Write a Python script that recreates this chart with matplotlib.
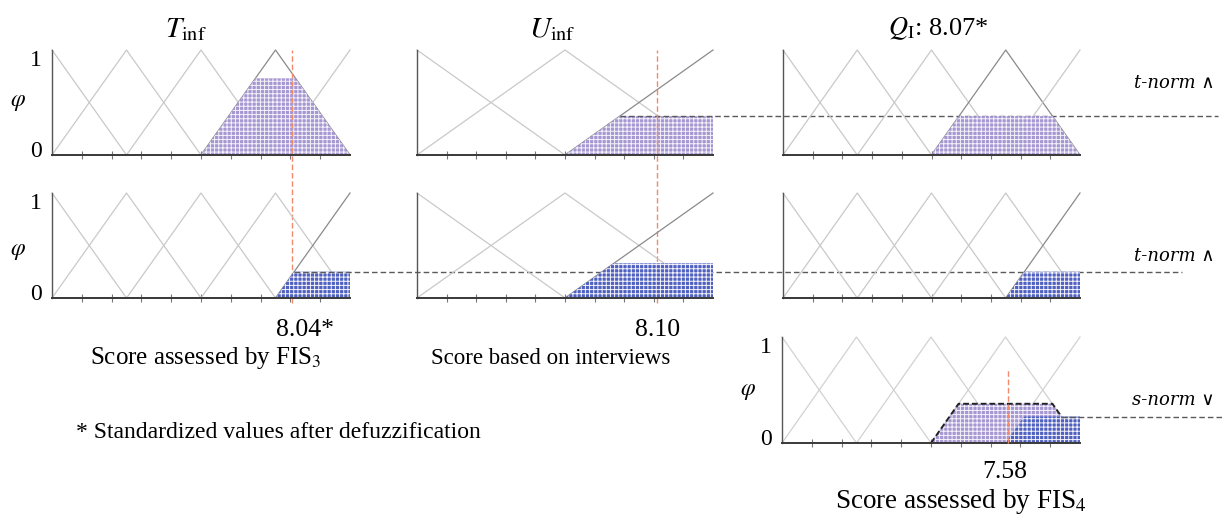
import numpy as np
import matplotlib.pyplot as plt
from matplotlib.transforms import blended_transform_factory as blend

plt.rcParams["font.family"] = ["Liberation Serif", "DejaVu Serif"]
plt.rcParams["mathtext.fontset"] = "stix"
plt.rcParams["hatch.linewidth"] = 0.7

# membership function layout (score axis 0..10)
five_peaks = [0, 2.5, 5, 7.5, 10]
five_half = 2.5
three_peaks = [0, 5, 10]
three_half = 5.0

# crisp inputs / outputs
t_value = 8.04
u_value = 8.10
q_value = 8.07
fis4_value = 7.58

# rule activations: (term index, clip level)
rule1_t = (3, 0.73)
rule1_u = (2, 0.37)
rule1_q = (3, 0.37)
rule2_t = (4, 0.25)
rule2_u = (2, 0.33)
rule2_q = (4, 0.25)

W, H = 1223, 515
PURPLE = "#a697d2"
BLUE = "#4f61c0"
RED = "#f28a6e"
DASH = "#5a5a5a"

x = np.linspace(0, 10, 1001)


def mf(peak, half):
    return np.interp(x, [peak - half, peak, peak + half], [0, 1, 0])


fig = plt.figure(figsize=(W / 100, H / 100), dpi=100)


def box(left, top, right, bottom):
    return [left / W, 1 - bottom / H, (right - left) / W, (bottom - top) / H]


def panel(rect, peaks, half, active=None, light="#c9c9c9", dark="#8a8a8a"):
    ax = fig.add_axes(box(*rect))
    for i, p in enumerate(peaks):
        ax.plot(x, mf(p, half), color=dark if i == active else light,
                lw=0.9, clip_on=False, zorder=2)
    return ax


def shade(ax, peaks, half, term, level, color, z=3):
    y = np.minimum(mf(peaks[term], half), level)
    ax.fill_between(x, 0, y, where=y > 0, facecolor=color, edgecolor="#f4f2fa",
                    hatch="++++", linewidth=0, zorder=z)


def style(ax, labels=False, phi_y=0.5):
    ax.set_xlim(0, 10)
    ax.set_ylim(0, 1)
    ax.patch.set_alpha(0)
    for s in ("top", "right"):
        ax.spines[s].set_visible(False)
    ax.spines["left"].set_color("#555555")
    ax.spines["left"].set_linewidth(1.0)
    ax.spines["bottom"].set_color("#3a3a3a")
    ax.spines["bottom"].set_linewidth(1.4)
    ax.spines["left"].set_zorder(5)
    ax.spines["bottom"].set_zorder(5)
    ax.set_yticks([])
    ax.set_xticks(range(1, 10))
    ax.set_xticklabels([])
    ax.tick_params(axis="x", direction="inout", length=6, width=0.8, color="#777777")
    if labels:
        ax.text(-0.035, 0.9, "1", transform=ax.transAxes, ha="right", va="center", fontsize=17)
        ax.text(-0.035, 0.03, "0", transform=ax.transAxes, ha="right", va="center", fontsize=17)
        ax.text(-0.115, phi_y, r"$\varphi$", transform=ax.transAxes, ha="center", va="center", fontsize=17)


def reach_right(ax, x0, level, right_px, **kw):
    x0_fig = fig.transFigure.inverted().transform(ax.transData.transform((x0, level)))[0]
    ax.plot([x0_fig, right_px / W], [level, level], transform=blend(fig.transFigure, ax.transData),
            clip_on=False, color=DASH, lw=1.0, dashes=(4, 2.2), zorder=4)


# rule 1 row
ax_t1 = panel((52, 50, 350, 155), five_peaks, five_half, active=rule1_t[0])
shade(ax_t1, five_peaks, five_half, *rule1_t, PURPLE)
ax_u1 = panel((417, 50, 713, 155), three_peaks, three_half, active=rule1_u[0])
shade(ax_u1, three_peaks, three_half, *rule1_u, PURPLE)
ax_q1 = panel((783, 50, 1080, 155), five_peaks, five_half, active=rule1_q[0])
shade(ax_q1, five_peaks, five_half, *rule1_q, PURPLE)

# rule 2 row
ax_t2 = panel((52, 193, 350, 298), five_peaks, five_half, active=rule2_t[0])
shade(ax_t2, five_peaks, five_half, *rule2_t, BLUE)
ax_u2 = panel((417, 193, 713, 298), three_peaks, three_half, active=rule2_u[0])
shade(ax_u2, three_peaks, three_half, *rule2_u, BLUE)
ax_q2 = panel((783, 193, 1080, 298), five_peaks, five_half, active=rule2_q[0])
shade(ax_q2, five_peaks, five_half, *rule2_q, BLUE)

# aggregated output of FIS4
ax_f4 = panel((782, 337, 1080, 443), five_peaks, five_half, light="#d2d2d2")
shade(ax_f4, five_peaks, five_half, *rule1_q, PURPLE, z=3)
shade(ax_f4, five_peaks, five_half, *rule2_q, BLUE, z=3.5)
env = np.maximum(np.minimum(mf(five_peaks[rule1_q[0]], five_half), rule1_q[1]),
                 np.minimum(mf(five_peaks[rule2_q[0]], five_half), rule2_q[1]))
stop = (x >= 5) & (x <= 10 - five_half * rule2_q[1])
ax_f4.plot(x[stop], env[stop], color="#222222", lw=1.4, dashes=(3, 1.5), zorder=4)

for ax in (ax_t1, ax_u1, ax_q1, ax_t2, ax_u2, ax_q2, ax_f4):
    style(ax)
style(ax_t1, labels=True, phi_y=0.5)
style(ax_t2, labels=True, phi_y=0.44)
style(ax_f4, labels=True, phi_y=0.49)

# min (t-norm) levels carried across to the output
min1 = min(rule1_t[1], rule1_u[1])
min2 = min(rule2_t[1], rule2_u[1])
reach_right(ax_u1, three_peaks[2] - three_half + three_half * min1, min1, 1218)
reach_right(ax_t2, 10 - five_half + five_half * min2, min2, 1182)
reach_right(ax_f4, 10 - five_half * rule2_q[1], rule2_q[1], 1223)

# crisp values
for top, bot, val in ((ax_t1, ax_t2, t_value), (ax_u1, ax_u2, u_value)):
    y_hi = top.get_position().y1
    y_lo = bot.get_position().y0 - 5 / H
    top.plot([val, val], [y_lo, y_hi], transform=blend(top.transData, fig.transFigure),
             clip_on=False, color=RED, lw=1.0, dashes=(4, 2), zorder=6)
ax_f4.plot([fis4_value, fis4_value], [0, 0.71], color=RED, lw=1.0, dashes=(4, 2),
           zorder=6, clip_on=False)

# titles
fig.text(186 / W, 1 - 30 / H, r"$T_{\mathrm{inf}}$", ha="center", va="center", fontsize=21)
fig.text(552 / W, 1 - 30 / H, r"$U_{\mathrm{inf}}$", ha="center", va="center", fontsize=21)
fig.text(938 / W, 1 - 29 / H, r"$Q_{\mathrm{I}}$: " + f"{q_value:.2f}*", ha="center", va="center",
         fontsize=19)

# norm labels
for y_px, label in ((83, "t-norm ∧"), (256, "t-norm ∧"), (400, "s-norm ∨")):
    fig.text(1215 / W, 1 - y_px / H, label, ha="right", va="center", fontsize=13,
             family=["DejaVu Serif"], style="italic")

# value labels and captions
fig.text(305 / W, 1 - 330 / H, f"{t_value:.2f}*", ha="center", va="center", fontsize=18.5)
fig.text(206 / W, 1 - 358 / H, r"Score assessed by FIS$_3$", ha="center", va="center", fontsize=18)
fig.text(658 / W, 1 - 330 / H, f"{u_value:.2f}", ha="center", va="center", fontsize=18.5)
fig.text(551 / W, 1 - 358 / H, "Score based on interviews", ha="center", va="center", fontsize=16.5)
fig.text(76 / W, 1 - 433 / H, "* Standardized values after defuzzification", ha="left",
         va="center", fontsize=17)
fig.text(1005 / W, 1 - 472 / H, f"{fis4_value:.2f}", ha="center", va="center", fontsize=18.5)
fig.text(961 / W, 1 - 502 / H, r"Score assessed by FIS$_4$", ha="center", va="center", fontsize=19.5)

fig.savefig("out.png", dpi=100)
